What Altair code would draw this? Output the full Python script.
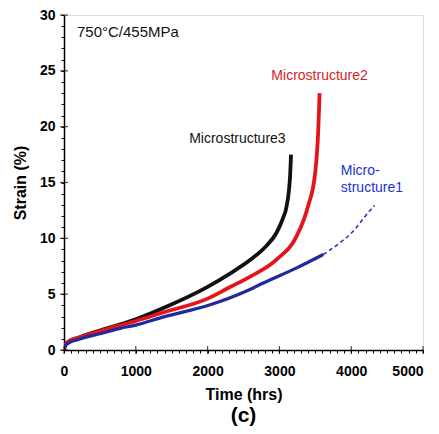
import altair as alt
import pandas as pd

# ---- data ----
M3_T = [0, 15, 60, 200, 500, 1000, 1400, 2000, 2300, 2600, 2800, 2960, 3050, 3101, 3148, 3162]
M3_S = [0, 0.45, 0.75, 1.1, 1.75, 2.75, 3.8, 5.65, 6.8, 8.1, 9.2, 10.5, 11.8, 12.9, 15.5, 17.5]

M2_T = [0, 15, 60, 200, 500, 1000, 1400, 2000, 2300, 2600, 2960, 3240, 3400, 3497, 3540, 3560]
M2_S = [0, 0.45, 0.75, 1.1, 1.7, 2.6, 3.4, 4.6, 5.6, 6.6, 8.1, 10.2, 12.9, 15.8, 19.5, 23.0]

M1_T = [0, 15, 60, 200, 500, 785, 1000, 1390, 2015, 2550, 2776, 3241, 3610]
M1_S = [0, 0.35, 0.6, 0.95, 1.45, 1.94, 2.23, 2.97, 4.0, 5.3, 6.0, 7.35, 8.55]

M1X_T = [3610, 3851, 4036, 4185, 4325]
M1X_S = [8.55, 9.64, 10.7, 11.9, 12.95]

X_MAJOR = [0, 1000, 2000, 3000, 4000, 5000]
Y_MAJOR = [0, 5, 10, 15, 20, 25, 30]
X_MINOR = list(range(0, 5001, 100))
Y_MINOR = list(range(0, 31, 1))

NOTE_TEXT = ["750°C/455MPa"]
NOTE_T = [181]
NOTE_S = [28.5]

CENTER_TEXT = ["Microstructure3", "Microstructure2"]
CENTER_T = [2415, 3560]
CENTER_S = [18.9, 24.55]
CENTER_COL = ["#111111", "#d91c1c"]

LEFT_TEXT = ["Micro-", "structure1"]
LEFT_T = [3855, 3855]
LEFT_S = [16.0, 14.55]
LEFT_COL = ["#2233d0", "#2233d0"]

W, H = 359, 335
FONT = "Liberation Sans"

xs = alt.Scale(domain=[0, 5000], nice=False, zero=False)
ys = alt.Scale(domain=[0, 30], nice=False, zero=False)

x_axis = alt.Axis(
    values=X_MINOR, format="d",
    labelExpr="datum.value % 1000 === 0 ? datum.label : ''",
    labelAlign={"condition": {"test": "datum.value >= 5000", "value": "right"}, "value": "center"},
    tickSize=3, tickColor="black", tickWidth=1,
    labelPadding=11, labelFontSize=14, labelFontWeight="bold", labelFont=FONT,
    labelColor="black", labelOverlap=False, labelFlush=False,
    titleFontSize=16, titleFontWeight="bold", titleFont=FONT, titleColor="black",
    titlePadding=8, domainColor="black", domainWidth=1.5, grid=False,
)
y_axis = alt.Axis(
    values=Y_MINOR, format="d",
    labelExpr="datum.value % 5 === 0 ? datum.label : ''",
    tickSize=3, tickColor="black", tickWidth=1,
    labelPadding=6, labelFontSize=14, labelFontWeight="bold", labelFont=FONT,
    labelColor="black", labelOverlap=False, labelFlush=False,
    titleFontSize=16, titleFontWeight="bold", titleFont=FONT, titleColor="black",
    titlePadding=11, domainColor="black", domainWidth=1.5, grid=False,
)

X = alt.X("t:Q", scale=xs, axis=x_axis, title="Time (hrs)")
Y = alt.Y("s:Q", scale=ys, axis=y_axis, title="Strain (%)")


def curve(t, s, color, width, dash=None):
    df = pd.DataFrame({"t": t, "s": s})
    kw = dict(color=color, strokeWidth=width, interpolate="monotone", clip=True)
    if dash:
        kw["strokeDash"] = dash
    return alt.Chart(df).mark_line(**kw).encode(x=X, y=Y)


black = curve(M3_T, M3_S, "#111111", 3.8)
red = curve(M2_T, M2_S, "#e3151a", 3.8)
blue = curve(M1_T, M1_S, "#1f2a9c", 3.2)
blue_dash = curve(M1X_T, M1X_S, "#2a38b8", 1.6, dash=[4, 3])

xticks = alt.Chart(pd.DataFrame({"t": X_MAJOR})).mark_tick(
    orient="vertical", size=8, thickness=1.2, color="black"
).encode(x=X, y=alt.value(H))
yticks = alt.Chart(pd.DataFrame({"s": Y_MAJOR})).mark_tick(
    orient="horizontal", size=8, thickness=1.2, color="black"
).encode(y=Y, x=alt.value(0))

note = alt.Chart(pd.DataFrame({"t": NOTE_T, "s": NOTE_S, "txt": NOTE_TEXT})).mark_text(
    align="left", baseline="middle", font=FONT, fontSize=15, color="#111111"
).encode(x=X, y=Y, text="txt:N")

center_lbl = alt.Chart(pd.DataFrame({"t": CENTER_T, "s": CENTER_S, "txt": CENTER_TEXT, "c": CENTER_COL})).mark_text(
    align="center", baseline="middle", font=FONT, fontSize=14
).encode(x=X, y=Y, text="txt:N", color=alt.Color("c:N", scale=None))

left_lbl = alt.Chart(pd.DataFrame({"t": LEFT_T, "s": LEFT_S, "txt": LEFT_TEXT, "c": LEFT_COL})).mark_text(
    align="left", baseline="middle", font=FONT, fontSize=14
).encode(x=X, y=Y, text="txt:N", color=alt.Color("c:N", scale=None))

panel = alt.Chart(pd.DataFrame({"txt": ["(c)"]})).mark_text(
    align="center", baseline="middle", font=FONT, fontSize=21, fontWeight="bold", color="black"
).encode(x=alt.value(W / 2), y=alt.value(H + 66), text="txt:N")

chart = alt.layer(
    black, red, blue, blue_dash, xticks, yticks, note, center_lbl, left_lbl, panel
).properties(
    width=W, height=H,
    autosize=alt.AutoSizeParams(type="none"),
    padding={"left": 56, "top": 7, "right": 8, "bottom": 76},
).configure_view(
    stroke="black", strokeWidth=1.5
).configure(background="white")

chart.save("out.html", embed_options={"renderer": "svg", "actions": False})
